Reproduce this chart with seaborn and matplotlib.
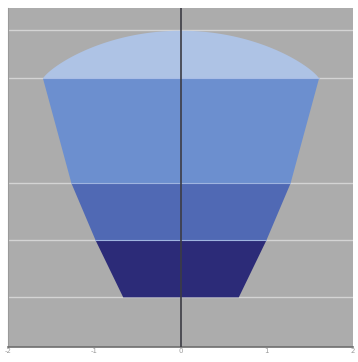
import numpy as np
import matplotlib
matplotlib.use("Agg")
import matplotlib.pyplot as plt
import seaborn as sns

# Stacked funnel layers, bottom to top: (bottom y, top y, half-width at bottom, half-width at top)
layer_bottoms = [0.0, 1.0, 2.0]
layer_tops = [1.0, 2.0, 3.84]
half_bottom = [0.67, 0.99, 1.27]
half_top = [0.99, 1.27, 1.60]
layer_colors = ["#2c2b78", "#5069b4", "#6c8fcf"]

# Dome cap on top of the funnel
dome_base = 3.84
dome_height = 0.84
dome_half = 1.60
dome_color = "#aec3e5"

x_ticks = [-2, -1, 0, 1, 2]
grid_levels = [0.0, 1.0, 2.0, 3.84, 4.68]

sns.set_style("darkgrid", {
    "axes.facecolor": "#acacac",
    "grid.color": "#d2d2d2",
    "axes.edgecolor": "#8a8a8a",
})

fig = plt.figure(figsize=(3.58, 3.62), dpi=100)
ax = fig.add_axes([8 / 358, 15 / 362, 345 / 358, 339 / 362])

for yb, yt, hb, ht, c in zip(layer_bottoms, layer_tops, half_bottom, half_top, layer_colors):
    ys = np.array([yb, yt])
    hw = np.array([hb, ht])
    ax.fill_betweenx(ys, -hw, hw, color=c, linewidth=0, zorder=2)

# rounded cap: flattened arc between an ellipse and a parabola
xs = np.linspace(-dome_half, dome_half, 300)
ys = dome_base + dome_height * np.clip(1 - (xs / dome_half) ** 2, 0, 1) ** 0.8
ax.fill_between(xs, dome_base, ys, color=dome_color, linewidth=0, zorder=2)

# light seams between layers
for yb, hb in zip(layer_tops[:-1], half_top[:-1]):
    ax.plot([-hb, hb], [yb, yb], color="#9fb4e0", lw=0.8, zorder=3)
ax.plot([-dome_half, dome_half], [dome_base, dome_base], color="#a9bde6", lw=0.8, zorder=3)

ax.axvline(0, color="#3c3c44", lw=1.2, zorder=4)

ax.set_xlim(-2, 2)
ax.set_ylim(-0.88, 5.07)
ax.set_xticks(x_ticks)
ax.set_xticklabels([str(v) for v in x_ticks])
ax.set_yticks(grid_levels)
ax.set_yticklabels([])
ax.grid(axis="x", visible=False)
ax.grid(axis="y", color="#d4d4d4", lw=1.0)
ax.tick_params(axis="x", labelsize=5, colors="#9a9a9a", pad=1, length=0)
ax.tick_params(axis="y", length=0)
for side in ["top", "right"]:
    ax.spines[side].set_visible(False)
ax.spines["bottom"].set_color("#6e6e6e")
ax.spines["bottom"].set_linewidth(1.2)
ax.spines["left"].set_color("#9a9a9a")
ax.spines["left"].set_visible(True)

fig.savefig("out.png", dpi=100)
